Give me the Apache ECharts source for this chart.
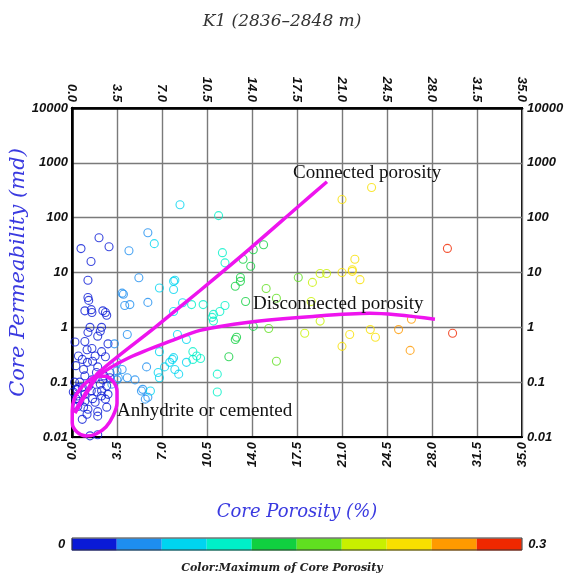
<!DOCTYPE html>
<html><head><meta charset="utf-8">
<script src="https://cdn.jsdelivr.net/npm/echarts@6/dist/echarts.min.js"></script>
<style>html,body{margin:0;padding:0;background:#fff}#c{width:564px;height:575px}</style>
</head><body><div id="c"></div>
<script>
// ---- data ----
const porosity = [
 0.7,2.1,2.88,1.48,1.24,1.24,1.3,1.0,1.5,1.55,2.4,2.7,2.6,1.4,2.3,1.24,2.2,0.23,2.0,1.17,1.55,2.3,2.6,0.8,1.2,1.6,2.0,1.9,1.0,1.55,2.4,0.2,0.6,0.8,0.4,2.2,2.7,0.1,0.45,1.0,1.95,2.3,2.8,1.0,1.8,2.6,0.45,1.24,2.0,2.7,1.17,2.0,0.8,2.0,1.4,
 0.3,0.6,1.5,0.9,1.6,0.5,2.3,1.3,2.5,0.9,1.8,0.5,2.8,1.0,0.3,2.95,2.95,
 4.43,5.9,5.2,3.9,4.0,4.1,4.5,5.9,4.3,3.5,3.9,3.5,3.6,3.1,3.5,4.3,4.9,5.5,5.9,5.8,5.4,5.7,3.3,
 8.4,6.4,8.0,7.9,7.9,6.8,6.8,7.2,6.7,6.8,7.9,7.6,8.6,7.9,8.2,8.9,8.9,7.8,8.0,8.3,6.1,
 11.4,11.7,11.9,9.3,10.2,11.9,11.5,11.0,10.9,11.0,9.4,9.7,10.0,9.4,11.3,11.3,
 13.3,14.1,14.9,13.9,13.1,13.1,12.7,13.5,14.1,12.7,12.8,12.2,
 15.1,15.9,17.6,15.3,15.9,
 18.7,19.3,19.8,18.6,19.3,18.1,
 21.0,23.3,21.0,21.8,22.0,22.4,21.8,21.0,21.6,23.2,23.6,
 25.4,26.3,26.4,
 29.2,29.6
];
const permeability = [
 27.3,43,29.5,15.9,7.2,3.5,3.1,2.0,2.1,1.86,2.0,1.66,1.86,1.0,1.0,0.81,0.85,0.54,0.69,0.39,0.41,0.36,0.29,0.26,0.23,0.24,0.19,0.15,0.13,0.11,0.11,0.1,0.1,0.081,0.074,0.092,0.085,0.066,0.056,0.06,0.066,0.056,0.06,0.045,0.043,0.049,0.036,0.032,0.029,0.035,0.026,0.024,0.021,0.011,0.0105,
 0.05,0.045,0.07,0.035,0.05,0.08,0.07,0.085,0.13,0.17,0.3,0.3,0.5,0.55,0.2,0.12,0.15,
 25,53,8,4.2,4.0,2.5,2.6,2.85,0.74,0.23,0.17,0.16,0.12,0.092,0.11,0.12,0.11,0.074,0.053,0.19,0.069,0.049,0.5,
 172,33.6,7.2,6.9,4.9,5.2,0.36,0.19,0.15,0.12,0.28,0.23,2.8,1.95,0.74,0.6,0.23,0.26,0.17,0.14,0.069,
 109,23,15,2.6,2.6,2.5,1.95,1.72,1.52,1.3,0.36,0.3,0.27,0.26,0.14,0.066,
 17.4,26,32,13,8.1,6.9,5.6,2.95,1.04,0.6,0.66,0.29,
 5.1,3.4,8.1,0.95,0.24,
 6.6,9.6,9.6,2.95,1.3,0.78,
 215,355,10,10.5,17.4,7.4,11.2,0.45,0.74,0.91,0.66,
 0.91,0.38,1.4,
 27.5,0.78
];
const connectedX = [0.23,1.24,2.02,6.46,9.96,13.84,17.58,19.83];
const connectedY = [0.0297,0.0746,0.146,1.0,4.7,27.3,158,452];
const disconnectedX = [0.23,1.24,2.02,4.51,8.01,9.96,13.61,18.74,23.18,28.23];
const disconnectedY = [0.0273,0.0686,0.129,0.285,0.605,0.88,1.23,1.58,1.8,1.4];
const anhydriteX = [2.64,3.19,3.50,3.50,3.19,2.64,1.87,1.09,0.39,0.02,0.02,0.16,0.62,1.24,1.94,2.64,3.19];
const anhydriteY = [0.1285,0.104,0.0686,0.0415,0.0241,0.0152,0.01135,0.0104,0.0123,0.018,0.0297,0.049,0.0746,0.104,0.1285,0.1285,0.104];
const binColors = ['#0a1ad6','#1e8ef0','#00d4f0','#00f0c8','#10d040','#60e020','#c8f000','#f8e000','#ff9a00','#f02800'];
const colorBarEnds = ['\u20020.3','0\u2002'];

function binColor(p){ let i = Math.floor(p/3); if(i>9) i=9; return binColors[i]; }
const zip = (a,b)=>a.map((v,i)=>[v,b[i]]);

const chart = echarts.init(document.getElementById('c'));
const tickFont = {fontFamily:'Liberation Sans', fontWeight:'bold', fontStyle:'italic', fontSize:13, color:'#111'};
const serifIt = 'DejaVu Serif';
const logFmt = v => { const e = Math.round(Math.log10(v)); return e<0 ? Math.pow(10,e).toFixed(-e) : String(Math.round(Math.pow(10,e))); };
const lineStyleMag = {color:'#ee14ee', width:3.5};

chart.setOption({
  backgroundColor:'#fff',
  animation:false,
  title:[
    {text:'K1 (2836–2848 m)', left:'center', top:8,
     textStyle:{fontFamily:serifIt, fontStyle:'italic', fontWeight:'normal', fontSize:17, color:'#333'}},
    {text:'Color:Maximum of Core Porosity', left:'center', top:558,
     textStyle:{fontFamily:serifIt, fontStyle:'italic', fontWeight:'bold', fontSize:11, color:'#222'}}
  ],
  grid:{left:72, right:42, top:108, bottom:138, show:true, borderColor:'#000', borderWidth:2,
        containLabel:false, outerBoundsMode:'none'},
  xAxis:[
    {type:'value', position:'bottom', min:0, max:35, interval:3.5,
     name:'Core Porosity (%)', nameLocation:'middle', nameGap:66, nameMoveOverlap:false,
     nameTextStyle:{fontFamily:serifIt, fontStyle:'italic', fontSize:18, color:'#3a3ae0'},
     axisLine:{lineStyle:{color:'#000', width:2}}, axisTick:{show:false},
     splitLine:{lineStyle:{color:'#7a7a7a', width:1.4}},
     axisLabel:Object.assign({rotate:90, margin:5, formatter:v=>v.toFixed(1)}, tickFont)},
    {type:'value', position:'top', min:0, max:35, interval:3.5,
     axisLine:{lineStyle:{color:'#000', width:2.5}}, axisTick:{show:false}, splitLine:{show:false},
     axisLabel:Object.assign({rotate:90, margin:6, formatter:v=>v.toFixed(1)}, tickFont)}
  ],
  yAxis:[
    {type:'log', logBase:10, position:'left', min:0.01, max:10000,
     name:'Core Permeability (md)', nameLocation:'middle', nameGap:43, nameMoveOverlap:false,
     nameTextStyle:{fontFamily:serifIt, fontStyle:'italic', fontSize:21, color:'#3a3ae0'},
     axisLine:{lineStyle:{color:'#000', width:2}}, axisTick:{show:false},
     splitLine:{lineStyle:{color:'#7a7a7a', width:1.4}},
     axisLabel:Object.assign({margin:4, formatter:logFmt}, tickFont)},
    {type:'log', logBase:10, position:'right', min:0.01, max:10000,
     axisLine:{lineStyle:{color:'#000', width:2.5}}, axisTick:{show:false}, splitLine:{show:false},
     axisLabel:Object.assign({margin:5, formatter:logFmt}, tickFont)}
  ],
  visualMap:{
    type:'piecewise', min:0, max:0.3, splitNumber:10, seriesIndex:4,
    orient:'horizontal', left:58, top:538, padding:0,
    itemWidth:45, itemHeight:12, itemGap:0, itemSymbol:'rect',
    text:colorBarEnds, hoverLink:false, selectedMode:false,
    inRange:{color:binColors},
    textStyle:{fontFamily:'Liberation Sans', fontWeight:'bold', fontStyle:'italic', fontSize:13, color:'#111'}
  },
  graphic:[
    {type:'rect', shape:{x:72, y:538, width:450, height:12}, style:{fill:null, stroke:'#333', lineWidth:1}, z:100, silent:true},
    {type:'text', left:293, top:164, style:{text:'Connected porosity', font:'19px "Liberation Serif"', fill:'#111'}, z:100},
    {type:'text', left:253, top:295, style:{text:'Disconnected porosity', font:'19px "Liberation Serif"', fill:'#111'}, z:100},
    {type:'text', left:117, top:402, style:{text:'Anhydrite or cemented', font:'19px "Liberation Serif"', fill:'#111'}, z:100}
  ],
  series:[
    {type:'scatter', symbol:'circle', symbolSize:8,
     data:porosity.map((p,i)=>({value:[p,permeability[i]], itemStyle:{borderColor:binColor(p)}})),
     itemStyle:{color:'rgba(255,255,255,0)', borderWidth:1.1, opacity:0.8}, z:2},
    {type:'line', data:zip(connectedX,connectedY), smooth:0.3, symbol:'none', lineStyle:lineStyleMag, z:5},
    {type:'line', data:zip(disconnectedX,disconnectedY), smooth:0.3, symbol:'none', lineStyle:lineStyleMag, z:5},
    {type:'line', data:zip(anhydriteX,anhydriteY), smooth:0.35, symbol:'none', lineStyle:lineStyleMag, z:5, clip:false},
    {type:'scatter', data:[], silent:true}
  ]
});
</script></body></html>
